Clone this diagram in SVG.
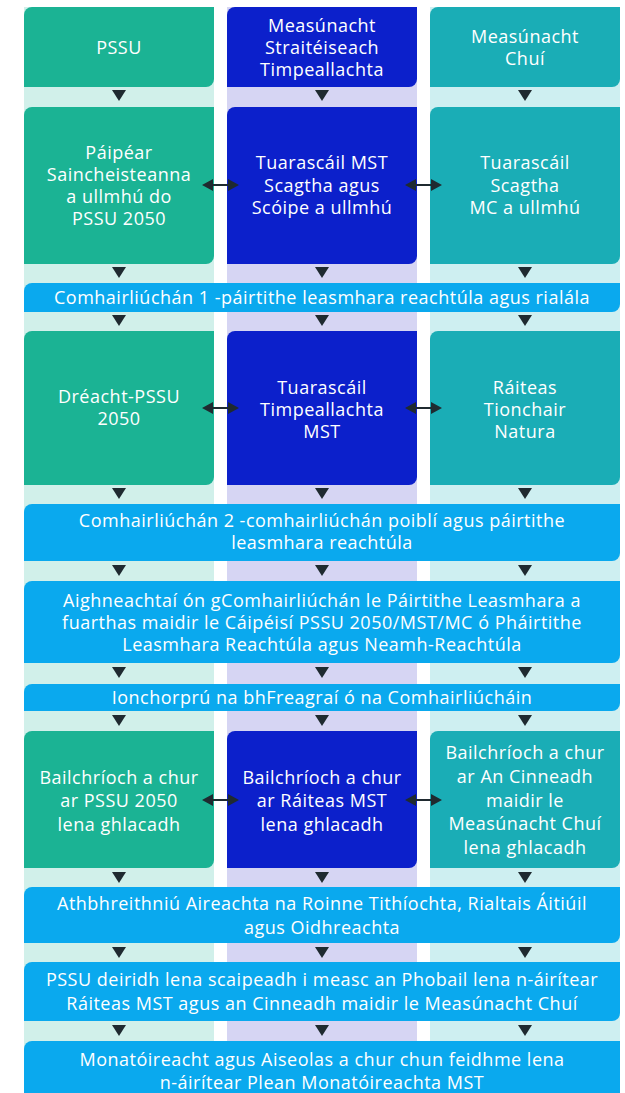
<svg xmlns="http://www.w3.org/2000/svg" width="625" height="1093" viewBox="0 0 625 1093">
<defs>
<style>
.t{font-family:"Open Sans","Liberation Sans",sans-serif;font-size:18px;letter-spacing:0.5px;fill:#ffffff;text-anchor:middle}
.g{fill:#1bb394}
.b{fill:#0c20cb}
.c{fill:#1aadb6}
.s{fill:#0aa9ee}
.tri{fill:#1f2a30}
.dl{stroke:#1f2a30;stroke-width:2;fill:none}
</style>
<path id="down" d="M-7,0 L7,0 L0,11 Z"/>
<g id="dbl"><line class="dl" x1="208" y1="0" x2="234" y2="0"/><path class="tri" d="M202,0 L213,-6 L213,6 Z M239,0 L228,-6 L228,6 Z"/></g>
</defs>
<rect width="625" height="1093" fill="#ffffff"/>
<g id="stripes">
<rect x="24" y="7" width="190" height="1086" fill="#d1f0ea"/>
<rect x="227" y="7" width="190" height="1086" fill="#d6d5f3"/>
<rect x="430" y="7" width="190" height="1086" fill="#ceeff1"/>
</g>
<g id="n-pssu"><path class="g" d="M32,7 H214 V79 A8,8 0 0 1 206,87 H24 V15 A8,8 0 0 1 32,7 Z"/><text class="t" x="119" y="54">PSSU</text></g>
<g id="n-mst"><path class="b" d="M235,7 H417 V79 A8,8 0 0 1 409,87 H227 V15 A8,8 0 0 1 235,7 Z"/><text class="t" x="322" y="32">Measúnacht</text><text class="t" x="322" y="54">Straitéiseach</text><text class="t" x="322" y="76">Timpeallachta</text></g>
<g id="n-mc"><path class="c" d="M438,7 H620 V79 A8,8 0 0 1 612,87 H430 V15 A8,8 0 0 1 438,7 Z"/><text class="t" x="525" y="43">Measúnacht</text><text class="t" x="525" y="65">Chuí</text></g>
<g id="n-paipear"><path class="g" d="M32,107 H214 V256 A8,8 0 0 1 206,264 H24 V115 A8,8 0 0 1 32,107 Z"/><text class="t" x="119" y="159">Páipéar</text><text class="t" x="119" y="181">Saincheisteanna</text><text class="t" x="119" y="203">a ullmhú do</text><text class="t" x="119" y="225">PSSU 2050</text></g>
<g id="n-scagtha-mst"><path class="b" d="M235,107 H417 V256 A8,8 0 0 1 409,264 H227 V115 A8,8 0 0 1 235,107 Z"/><text class="t" x="322" y="169">Tuarascáil MST</text><text class="t" x="322" y="192">Scagtha agus</text><text class="t" x="322" y="214">Scóipe a ullmhú</text></g>
<g id="n-scagtha-mc"><path class="c" d="M438,107 H620 V256 A8,8 0 0 1 612,264 H430 V115 A8,8 0 0 1 438,107 Z"/><text class="t" x="525" y="169">Tuarascáil</text><text class="t" x="525" y="192">Scagtha</text><text class="t" x="525" y="214">MC a ullmhú</text></g>
<g id="n-comh1"><path class="s" d="M32,283 H620 V304 A8,8 0 0 1 612,312 H24 V291 A8,8 0 0 1 32,283 Z"/><text class="t" x="322" y="304">Comhairliúchán 1 -páirtithe leasmhara reachtúla agus rialála</text></g>
<g id="n-dreacht"><path class="g" d="M32,331 H214 V477 A8,8 0 0 1 206,485 H24 V339 A8,8 0 0 1 32,331 Z"/><text class="t" x="119" y="403">Dréacht-PSSU</text><text class="t" x="119" y="425">2050</text></g>
<g id="n-tt-mst"><path class="b" d="M235,331 H417 V477 A8,8 0 0 1 409,485 H227 V339 A8,8 0 0 1 235,331 Z"/><text class="t" x="322" y="394">Tuarascáil</text><text class="t" x="322" y="416">Timpeallachta</text><text class="t" x="322" y="438">MST</text></g>
<g id="n-natura"><path class="c" d="M438,331 H620 V477 A8,8 0 0 1 612,485 H430 V339 A8,8 0 0 1 438,331 Z"/><text class="t" x="525" y="394">Ráiteas</text><text class="t" x="525" y="416">Tionchair</text><text class="t" x="525" y="438">Natura</text></g>
<g id="n-comh2"><path class="s" d="M32,504 H620 V553 A8,8 0 0 1 612,561 H24 V512 A8,8 0 0 1 32,504 Z"/><text class="t" x="322" y="527">Comhairliúchán 2 -comhairliúchán poiblí agus páirtithe</text><text class="t" x="322" y="549">leasmhara reachtúla</text></g>
<g id="n-aighneachtai"><path class="s" d="M32,581 H620 V655 A8,8 0 0 1 612,663 H24 V589 A8,8 0 0 1 32,581 Z"/><text class="t" x="322" y="607">Aighneachtaí ón gComhairliúchán le Páirtithe Leasmhara a</text><text class="t" x="322" y="629">fuarthas maidir le Cáipéisí PSSU 2050/MST/MC ó Pháirtithe</text><text class="t" x="322" y="651">Leasmhara Reachtúla agus Neamh-Reachtúla</text></g>
<g id="n-ionchorpru"><path class="s" d="M32,684 H620 V703 A8,8 0 0 1 612,711 H24 V692 A8,8 0 0 1 32,684 Z"/><text class="t" x="322" y="704">Ionchorprú na bhFreagraí ó na Comhairliúcháin</text></g>
<g id="n-final-pssu"><path class="g" d="M32,731 H214 V860 A8,8 0 0 1 206,868 H24 V739 A8,8 0 0 1 32,731 Z"/><text class="t" x="119" y="784">Bailchríoch a chur</text><text class="t" x="119" y="807">ar PSSU 2050</text><text class="t" x="119" y="831">lena ghlacadh</text></g>
<g id="n-final-mst"><path class="b" d="M235,731 H417 V860 A8,8 0 0 1 409,868 H227 V739 A8,8 0 0 1 235,731 Z"/><text class="t" x="322" y="784">Bailchríoch a chur</text><text class="t" x="322" y="807">ar Ráiteas MST</text><text class="t" x="322" y="831">lena ghlacadh</text></g>
<g id="n-final-mc"><path class="c" d="M438,731 H620 V860 A8,8 0 0 1 612,868 H430 V739 A8,8 0 0 1 438,731 Z"/><text class="t" x="525" y="759">Bailchríoch a chur</text><text class="t" x="525" y="783">ar An Cinneadh</text><text class="t" x="525" y="807">maidir le</text><text class="t" x="525" y="830">Measúnacht Chuí</text><text class="t" x="525" y="854">lena ghlacadh</text></g>
<g id="n-athbhreithniu"><path class="s" d="M32,887 H620 V935 A8,8 0 0 1 612,943 H24 V895 A8,8 0 0 1 32,887 Z"/><text class="t" x="322" y="910">Athbhreithniú Aireachta na Roinne Tithíochta, Rialtais Áitiúil</text><text class="t" x="322" y="934">agus Oidhreachta</text></g>
<g id="n-deiridh"><path class="s" d="M32,962 H620 V1013 A8,8 0 0 1 612,1021 H24 V970 A8,8 0 0 1 32,962 Z"/><text class="t" x="322" y="986">PSSU deiridh lena scaipeadh i measc an Phobail lena n-áirítear</text><text class="t" x="322" y="1010">Ráiteas MST agus an Cinneadh maidir le Measúnacht Chuí</text></g>
<g id="n-monatoireacht"><path class="s" d="M32,1041 H620 V1093 H24 V1049 A8,8 0 0 1 32,1041 Z"/><text class="t" x="322" y="1066">Monatóireacht agus Aiseolas a chur chun feidhme lena</text><text class="t" x="322" y="1089">n-áirítear Plean Monatóireachta MST</text></g>
<g id="connectors" class="tri">
<use href="#down" x="119" y="90"/><use href="#down" x="322" y="90"/><use href="#down" x="525" y="90"/>
<use href="#down" x="119" y="267"/><use href="#down" x="322" y="267"/><use href="#down" x="525" y="267"/>
<use href="#down" x="119" y="315"/><use href="#down" x="322" y="315"/><use href="#down" x="525" y="315"/>
<use href="#down" x="119" y="488"/><use href="#down" x="322" y="488"/><use href="#down" x="525" y="488"/>
<use href="#down" x="119" y="565"/><use href="#down" x="322" y="565"/><use href="#down" x="525" y="565"/>
<use href="#down" x="119" y="667"/><use href="#down" x="322" y="667"/><use href="#down" x="525" y="667"/>
<use href="#down" x="119" y="715"/><use href="#down" x="322" y="715"/><use href="#down" x="525" y="715"/>
<use href="#down" x="119" y="872"/><use href="#down" x="322" y="872"/><use href="#down" x="525" y="872"/>
<use href="#down" x="119" y="947"/><use href="#down" x="322" y="947"/><use href="#down" x="525" y="947"/>
<use href="#down" x="119" y="1025"/><use href="#down" x="322" y="1025"/><use href="#down" x="525" y="1025"/>
<use href="#dbl" x="0" y="185"/><use href="#dbl" x="203" y="185"/>
<use href="#dbl" x="0" y="408"/><use href="#dbl" x="203" y="408"/>
<use href="#dbl" x="0" y="800"/><use href="#dbl" x="203" y="800"/>
</g>
</svg>
